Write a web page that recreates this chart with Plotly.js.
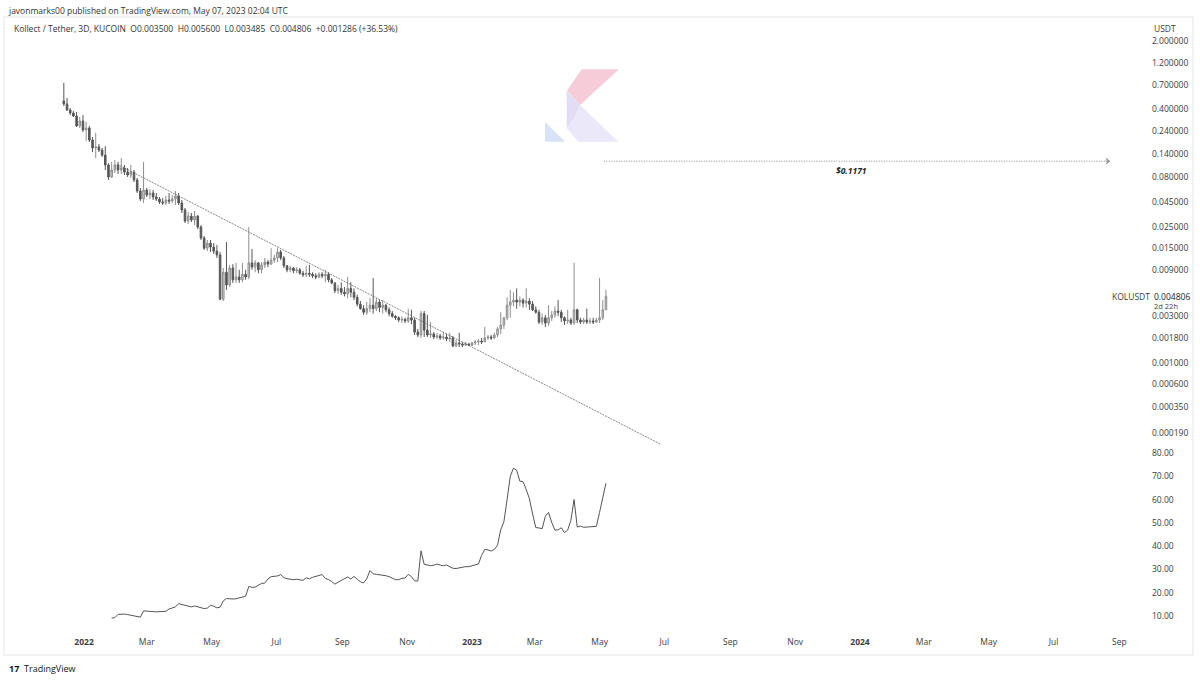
<!DOCTYPE html>
<html><head><meta charset="utf-8">
<script src="https://cdn.plot.ly/plotly-3.0.1.min.js"></script>
<style>html,body{margin:0;padding:0;background:#fff;}#chart{width:1200px;height:681px;}</style>
</head><body><div id="chart"></div>
<script>
// ---- data (3D bars, KOL/USDT) ----
const firstBar = '2021-12-13';
const barDays = 3;
const openP = [0.485,0.452,0.392,0.365,0.340,0.269,0.302,0.245,0.256,0.193,
0.160,0.164,0.152,0.135,0.107,0.0806,0.0951,0.107,0.0951,0.0997,
0.0906,0.0845,0.0906,0.0751,0.0579,0.0479,0.0593,0.0527,0.0552,0.0502,
0.0479,0.0447,0.0436,0.0468,0.0457,0.0479,0.0514,0.0436,0.0370,0.0285,
0.0320,0.0292,0.0320,0.0247,0.0191,0.0150,0.0169,0.0154,0.0140,0.0128,
0.0045,0.0085,0.0063,0.0094,0.0071,0.0076,0.0071,0.0081,0.0076,0.0106,
0.0096,0.0106,0.0090,0.0101,0.0108,0.0103,0.0113,0.0119,0.0137,0.0119,
0.0099,0.0090,0.0094,0.0088,0.0090,0.0083,0.0080,0.0083,0.0081,0.0078,
0.0076,0.0081,0.0078,0.0081,0.0071,0.0066,0.0055,0.0058,0.0053,0.0051,
0.0058,0.0053,0.0047,0.0040,0.0036,0.0033,0.0036,0.0039,0.0036,0.0042,
0.0037,0.0039,0.0035,0.0032,0.0030,0.0029,0.00275,0.0028,0.00269,0.0029,
0.00275,0.00207,0.00193,0.0032,0.00217,0.00193,0.00198,0.00184,0.00189,0.0018,
0.00184,0.00176,0.0018,0.00149,0.0016,0.00156,0.00152,0.00156,0.00152,0.0016,
0.00164,0.00167,0.00164,0.0018,0.00184,0.0018,0.00193,0.00223,0.00245,0.0029,
0.0039,0.0042,0.0044,0.0042,0.0044,0.0041,0.0043,0.0040,0.0035,0.0033,
0.00262,0.0029,0.00256,0.0029,0.0031,0.0034,0.0033,0.0029,0.00269,0.00275,
0.00256,0.0035,0.00275,0.00262,0.00275,0.00262,0.00269,0.00262,0.00275,0.0029,
0.0035];
const highP = [0.742,0.520,0.411,0.383,0.374,0.332,0.348,0.295,0.269,0.207,
0.228,0.176,0.160,0.167,0.112,0.115,0.120,0.115,0.126,0.107,
0.0997,0.107,0.0951,0.0787,0.0621,0.115,0.0621,0.0607,0.0593,0.0552,
0.0502,0.0491,0.0514,0.0552,0.0527,0.0579,0.0552,0.0468,0.0388,0.0352,
0.0344,0.0361,0.0328,0.0259,0.0200,0.0182,0.0182,0.0169,0.0162,0.0137,
0.0094,0.0173,0.0101,0.0103,0.0106,0.0090,0.0106,0.0090,0.0247,0.0147,
0.0113,0.0108,0.0108,0.0119,0.0113,0.0150,0.0128,0.0150,0.0144,0.0125,
0.0101,0.0099,0.0096,0.0096,0.0094,0.0088,0.0099,0.0101,0.0085,0.0083,
0.0085,0.0085,0.0090,0.0085,0.0074,0.0067,0.0063,0.0067,0.0060,0.0076,
0.0067,0.0058,0.0050,0.0043,0.0039,0.0042,0.0046,0.0074,0.0046,0.0044,
0.0044,0.0040,0.0037,0.0034,0.0031,0.0030,0.0030,0.0029,0.0036,0.0035,
0.0029,0.00223,0.0034,0.0034,0.0031,0.00262,0.00207,0.00203,0.00198,0.00207,
0.00198,0.00203,0.00189,0.00172,0.00203,0.00164,0.00164,0.0016,0.00164,0.00172,
0.00176,0.0018,0.00233,0.00193,0.00193,0.00203,0.00233,0.0033,0.0029,0.0047,
0.0056,0.0053,0.0058,0.0048,0.0046,0.0058,0.0046,0.0043,0.0038,0.0035,
0.0032,0.0031,0.0039,0.0034,0.0038,0.0044,0.0035,0.0030,0.0035,0.0029,
0.0106,0.0036,0.0029,0.0029,0.0036,0.0029,0.0029,0.0029,0.0074,0.0044,
0.0056];
const lowP = [0.431,0.383,0.348,0.332,0.262,0.256,0.233,0.189,0.184,0.145,
0.126,0.145,0.129,0.0951,0.0751,0.0787,0.0885,0.0865,0.0865,0.0845,
0.0806,0.0787,0.0716,0.0552,0.0457,0.0436,0.0502,0.0479,0.0468,0.0457,
0.0426,0.0416,0.0416,0.0426,0.0436,0.0416,0.0416,0.0344,0.0272,0.0265,
0.0278,0.0259,0.0236,0.0182,0.0144,0.0140,0.0137,0.0131,0.0119,0.0044,
0.0043,0.0056,0.0060,0.0066,0.0066,0.0066,0.0067,0.0071,0.0072,0.0090,
0.0085,0.0083,0.0083,0.0094,0.0096,0.0101,0.0106,0.0108,0.0113,0.0094,
0.0085,0.0085,0.0083,0.0083,0.0080,0.0076,0.0076,0.0076,0.0074,0.0072,
0.0074,0.0074,0.0067,0.0067,0.0064,0.0052,0.0051,0.0050,0.0048,0.0046,
0.0047,0.0044,0.0038,0.0035,0.0031,0.0031,0.0033,0.0032,0.0034,0.0033,
0.0032,0.0033,0.0030,0.0029,0.00275,0.00262,0.00256,0.00256,0.00256,0.0025,
0.00193,0.00184,0.0018,0.00184,0.00184,0.0018,0.00176,0.00176,0.00172,0.00172,
0.00167,0.00164,0.00145,0.00145,0.00145,0.00145,0.00149,0.00149,0.00149,0.00152,
0.00152,0.00156,0.00167,0.00172,0.00172,0.00176,0.00184,0.00198,0.00223,0.00275,
0.0029,0.0038,0.0036,0.0038,0.0037,0.0037,0.0035,0.0034,0.0032,0.0025,
0.00245,0.00233,0.00239,0.00269,0.0029,0.0030,0.00262,0.00245,0.0025,0.00245,
0.00245,0.00256,0.0025,0.0025,0.0025,0.0025,0.0025,0.00256,0.00256,0.00275,
0.003485];
const closeP = [0.452,0.392,0.365,0.340,0.269,0.302,0.245,0.256,0.193,0.160,
0.164,0.152,0.135,0.107,0.0806,0.0951,0.107,0.0951,0.0997,0.0906,
0.0845,0.0906,0.0751,0.0579,0.0479,0.0593,0.0527,0.0552,0.0502,0.0479,
0.0447,0.0436,0.0468,0.0457,0.0479,0.0514,0.0436,0.0370,0.0285,0.0320,
0.0292,0.0320,0.0247,0.0191,0.0150,0.0169,0.0154,0.0140,0.0128,0.0045,
0.0085,0.0063,0.0094,0.0071,0.0076,0.0071,0.0081,0.0076,0.0106,0.0096,
0.0106,0.0090,0.0101,0.0108,0.0103,0.0113,0.0119,0.0137,0.0119,0.0099,
0.0090,0.0094,0.0088,0.0090,0.0083,0.0080,0.0083,0.0081,0.0078,0.0076,
0.0081,0.0078,0.0081,0.0071,0.0066,0.0055,0.0058,0.0053,0.0051,0.0058,
0.0053,0.0047,0.0040,0.0036,0.0033,0.0036,0.0039,0.0036,0.0042,0.0037,
0.0039,0.0035,0.0032,0.0030,0.0029,0.00275,0.0028,0.00269,0.0029,0.00275,
0.00207,0.00193,0.0032,0.00217,0.00193,0.00198,0.00184,0.00189,0.0018,0.00184,
0.00176,0.0018,0.00149,0.0016,0.00156,0.00152,0.00156,0.00152,0.0016,0.00164,
0.00167,0.00164,0.0018,0.00184,0.0018,0.00193,0.00223,0.00245,0.0029,0.0039,
0.0042,0.0044,0.0042,0.0044,0.0041,0.0043,0.0040,0.0035,0.0033,0.00262,
0.0029,0.00256,0.0029,0.0031,0.0034,0.0033,0.0029,0.00269,0.00275,0.00256,
0.0035,0.00275,0.00262,0.00275,0.00262,0.00269,0.00262,0.00275,0.0029,0.0035,
0.004806];
// lower-pane indicator, starts at bar 15
const indicatorStartBar = 15;
const indicator = [9.1,9.3,10.7,10.8,10.8,10.6,10.4,10.1,9.8,9.5,
12.2,12.0,12.0,11.9,11.8,11.8,11.9,12.0,13.0,13.6,
13.9,15.3,14.9,14.4,14.0,13.9,14.3,14.0,13.7,13.2,
13.4,14.6,14.2,13.5,13.8,16.5,17.5,17.3,17.3,17.4,
17.8,18.3,18.5,22.7,22.3,22.4,23.3,24.0,24.1,25.9,
26.9,26.9,27.2,27.8,26.5,26.0,25.7,25.6,25.8,25.5,
25.3,26.4,26.0,26.6,27.1,27.6,27.8,26.1,25.7,24.8,
23.7,24.5,25.2,25.8,26.8,25.9,27.0,25.8,24.7,24.2,
26.0,29.5,28.1,27.9,27.8,27.6,27.3,26.9,26.2,25.6,
25.6,26.2,26.3,27.9,26.9,25.1,25.0,38.0,32.2,31.9,
31.6,31.8,32.3,31.9,31.6,31.9,31.2,30.5,30.4,30.7,
31.2,31.2,31.2,31.6,31.9,32.3,36.0,38.6,38.4,37.9,
38.6,40.4,47.0,50.5,60.0,70.0,73.5,72.6,67.9,67.7,
64.3,60.4,53.8,48.0,47.8,47.5,52.8,54.5,50.1,46.9,
47.0,47.9,45.8,46.9,51.0,60.0,48.2,48.6,48.1,48.2,
48.0,48.2,48.5,54.5,61.0,67.0];
// drawings
const trendDates = ['2022-02-01','2023-06-27'];
const trendPrices = [0.109, 0.000147];
const targetPrice = 0.1171;
const targetDates = ['2023-05-05','2024-08-23'];
// axes
const priceTicks = [2,1.2,0.7,0.4,0.24,0.14,0.08,0.045,0.025,0.015,0.009,0.003,0.0018,0.001,0.0006,0.00035,0.00019];
const indTicks = [10,20,30,40,50,60,70,80];
const timeTicks = ['2022-01-01','2022-03-01','2022-05-01','2022-07-01','2022-09-01','2022-11-01','2023-01-01','2023-03-01','2023-05-01','2023-07-01','2023-09-01','2023-11-01','2024-01-01','2024-03-01','2024-05-01','2024-07-01','2024-09-01'];
const timeLabels = ['<b>2022</b>','Mar','May','Jul','Sep','Nov','<b>2023</b>','Mar','May','Jul','Sep','Nov','<b>2024</b>','Mar','May','Jul','Sep'];

// ---- build ----
const t0 = Date.parse(firstBar + 'T00:00:00Z');
const dates = closeP.map((_, i) => new Date(t0 + i * barDays * 864e5).toISOString().slice(0, 10));

const L = 4, R = 1147, T = 17, B = 635;
const px = X => (X - L) / (R - L);
const py = Y => (B - Y) / (B - T);
const sep = 447;
const split = py(sep);
const pathOf = pts => 'M' + pts.map(p => px(p[0]).toFixed(5) + ',' + py(p[1]).toFixed(5)).join('L') + 'Z';

const FONT = 'Open Sans, Noto Sans, sans-serif';
const TXT = '#3b3b3b';

const traces = [
  {type:'candlestick', x:dates, open:openP, high:highP, low:lowP, close:closeP,
   xaxis:'x', yaxis:'y', whiskerwidth:0, hoverinfo:'skip',
   increasing:{line:{color:'#8e8e8e', width:1}, fillcolor:'#cfcfcf'},
   decreasing:{line:{color:'#555555', width:1}, fillcolor:'#5a5a5a'}},
  {type:'scatter', mode:'lines', x:dates.slice(indicatorStartBar), y:indicator,
   xaxis:'x', yaxis:'y2', line:{color:'#555555', width:1}, hoverinfo:'skip'},
  {type:'scatter', mode:'lines', x:trendDates, y:trendPrices, xaxis:'x', yaxis:'y',
   line:{color:'#6a6a6a', width:0.8, dash:'2px,1px'}, hoverinfo:'skip'},
  {type:'scatter', mode:'lines', x:targetDates, y:[targetPrice, targetPrice], xaxis:'x', yaxis:'y',
   line:{color:'#8a8a8a', width:1, dash:'1px,1.5px'}, hoverinfo:'skip'}
];

const ann = (X, Y, text, opts) => Object.assign({xref:'paper', yref:'paper', x:px(X), y:py(Y), text,
  showarrow:false, xanchor:'left', yanchor:'middle', font:{family:FONT, size:8.5, color:TXT}}, opts || {});

const annotations = [
  ann(6, 10, 'javonmarks00 published on TradingView.com, May 07, 2023 02:04 UTC', {font:{family:FONT, size:8.5, color:'#333'}}),
  ann(12, 29, 'Kollect / Tether, 3D, KUCOIN  O0.003500  H0.005600  L0.003485  C0.004806  +0.001286 (+36.53%)', {font:{family:FONT, size:8.5, color:'#333'}}),
  ann(1152, 29, 'USDT'),
  ann(1110, 296, 'KOLUSDT'),
  ann(1152, 296, '0.004806', {font:{family:FONT, size:8.5, color:'#222'}}),
  ann(1152, 305.5, '2d 22h', {font:{family:FONT, size:7.5, color:TXT}}),
  {xref:'x', yref:'y', x:'2023-12-24', y:Math.log10(targetPrice), yshift:-9, text:'<b><i>$0.1171</i></b>',
   showarrow:false, xanchor:'center', yanchor:'middle', font:{family:FONT, size:8.5, color:'#222'}},
  {xref:'x', yref:'y', x:targetDates[1], y:Math.log10(targetPrice), axref:'pixel', ayref:'pixel', ax:-6, ay:0,
   text:'', showarrow:true, arrowhead:4, arrowsize:1.3, arrowwidth:0.8, arrowcolor:'#8a8a8a'},
  ann(22, 668, 'TradingView', {font:{family:FONT, size:9, color:'#131722'}}),
  ann(7, 668, '<b>17</b>', {font:{family:FONT, size:9, color:'#131722'}})
];

const shapes = [
  {type:'rect', xref:'paper', yref:'paper', x0:px(4), x1:px(1193), y0:py(655), y1:py(17),
   line:{color:'#e3e5ea', width:1}, fillcolor:'rgba(0,0,0,0)', layer:'below'},
  // Kollect logo watermark
  {type:'path', xref:'paper', yref:'paper', path:pathOf([[567,90.5],[581.7,69.3],[619,69.3],[580,105]]),
   fillcolor:'#f6ccd9', line:{width:0}, layer:'below'},
  {type:'path', xref:'paper', yref:'paper', path:pathOf([[566.7,90.5],[580,105],[575,117],[566.7,128]]),
   fillcolor:'#e2ddf5', line:{width:0}, layer:'below'},
  {type:'path', xref:'paper', yref:'paper', path:pathOf([[580,105],[618.3,141.7],[578.3,141.7],[566.7,128],[575,117]]),
   fillcolor:'#ebe8f9', line:{width:0}, layer:'below'},
  {type:'path', xref:'paper', yref:'paper', path:pathOf([[545,121.7],[545,141.7],[565,141.7]]),
   fillcolor:'#d7e3f8', line:{width:0}, layer:'below'}
];

const axFont = {family:FONT, size:8.5, color:TXT};
const layout = {
  width:1200, height:681, margin:{l:L, r:1200-R, t:T, b:681-B},
  paper_bgcolor:'#ffffff', plot_bgcolor:'#ffffff', showlegend:false,
  font:{family:FONT, size:8.5, color:TXT}, dragmode:false,
  xaxis:{type:'date', range:['2021-10-17 17:00','2024-09-27'], anchor:'y2',
    tickmode:'array', tickvals:timeTicks, ticktext:timeLabels, tickfont:axFont,
    showgrid:false, zeroline:false, showline:false, ticks:'', rangeslider:{visible:false}, fixedrange:true},
  yaxis:{type:'log', domain:[split, 1], range:[-3.863, 0.547], side:'right', anchor:'x',
    tickmode:'array', tickvals:priceTicks, ticktext:priceTicks.map(v => v.toFixed(6)), tickfont:axFont,
    showgrid:false, zeroline:false, showline:false, ticks:'', ticklabelstandoff:4, fixedrange:true},
  yaxis2:{domain:[0, split], range:[1.84, 82.58], side:'right', anchor:'x',
    tickmode:'array', tickvals:indTicks, ticktext:indTicks.map(v => v.toFixed(2)), tickfont:axFont,
    showgrid:false, zeroline:false, showline:false, ticks:'', ticklabelstandoff:4, fixedrange:true},
  annotations, shapes
};

Plotly.newPlot('chart', traces, layout, {staticPlot:true, displayModeBar:false});
</script>
</body></html>
